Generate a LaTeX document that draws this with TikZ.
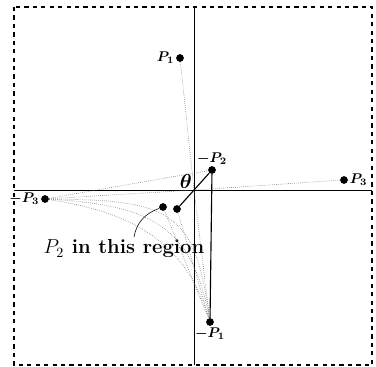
\documentclass[tikz,border=0pt]{standalone}
\usepackage{amsmath}
\usepackage{bm}
\usepackage{tikz}
\usetikzlibrary{positioning,arrows.meta}

\begin{document}
\begin{tikzpicture}[
x=0.025cm,
y=-0.025cm,
pt/.style={
circle,
fill,
inner sep=0pt,
minimum size=5.5pt
},
lbl/.style={
font=\normalsize,
inner sep=1pt
},
guide/.style={
densely dotted,
black!60,
thin
},
frame/.style={
dashed,
thick
}
]

\useasboundingbox (0,0) rectangle (376,367);

%%%%%%%%%%%%%%%%%%%%%%%%%%%%%%%%%%%%%%%%%%%%%
% Frame and Axes
%%%%%%%%%%%%%%%%%%%%%%%%%%%%%%%%%%%%%%%%%%%%%

\draw[frame] (14,7) rectangle (372,365);

\coordinate (o) at (194,190);
\coordinate (top) at (194,7);
\coordinate (bottom) at (194,365);
\coordinate (west) at (14,190);
\coordinate (east) at (372,190);

\draw[thin] (top)--(bottom);

\draw[thin] (west)--(east);

%%%%%%%%%%%%%%%%%%%%%%%%%%%%%%%%%%%%%%%%%%%%%
% Points
%%%%%%%%%%%%%%%%%%%%%%%%%%%%%%%%%%%%%%%%%%%%%

\node[pt, label={[lbl]left:$\bm{P}_{\bm 1}$}] (p1) at (180,58) {};

\node[pt, label={[lbl]above:$\bm{-P}_{\bm 2}$}] (mp2) at (212,170) {};

\node[pt, label={[lbl]right:$\bm{P}_{\bm 3}$}] (p3) at (344,180) {};

\node[pt, label={[lbl]left:$\bm{-P}_{\bm 3}$}] (mp3) at (45,199) {};

\node[pt, label={[lbl]below:$\bm{-P}_{\bm 1}$}] (mp1) at (210,322) {};

\node[pt] (p2a) at (163,207) {};

\node[pt] (p2b) at (177,209) {};

\node[font=\Large, inner sep=1pt] (theta) at (186,181) {$\bm\theta$};

\node[font=\Large\bfseries] (region) at (124,249)
{$P_2$ in this region};

\coordinate (arcstart) at (134,237);

%%%%%%%%%%%%%%%%%%%%%%%%%%%%%%%%%%%%%%%%%%%%%
% Guide Lines
%%%%%%%%%%%%%%%%%%%%%%%%%%%%%%%%%%%%%%%%%%%%%

\draw[guide] (p1)--(o);

\draw[guide] (p3)--(o);

\draw[guide] (mp3)--(o);

\draw[guide] (mp3)--(mp2);

\draw[guide] (o)--(mp1);

\draw[guide] (p2a)--(mp1);

\draw[guide] (p2b)--(mp1);

\draw[guide] (mp3) .. controls (150,205) and (192,225) .. (mp1);

\draw[guide] (mp3) .. controls (170,200) and (195,210) .. (mp1);

\draw[guide] (mp3) .. controls (130,212) and (185,240) .. (mp1);

%%%%%%%%%%%%%%%%%%%%%%%%%%%%%%%%%%%%%%%%%%%%%
% Connections
%%%%%%%%%%%%%%%%%%%%%%%%%%%%%%%%%%%%%%%%%%%%%

\draw[thick] (mp2)--(p2b);

\draw[thick] (mp2)--(mp1);

\draw (arcstart) to[out=80,in=200] (p2a);

\end{tikzpicture}
\end{document}
